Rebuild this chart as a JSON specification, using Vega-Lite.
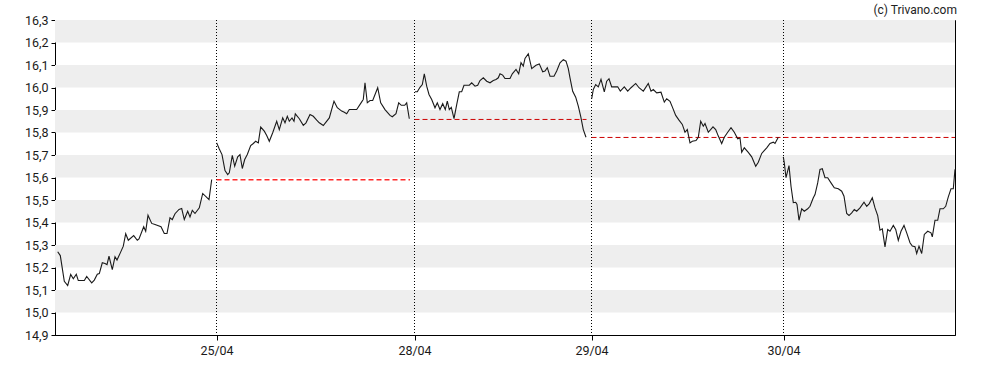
{
  "$schema": "https://vega.github.io/schema/vega-lite/v6.json",
  "width": 900,
  "height": 315,
  "autosize": {"type": "none"},
  "padding": {"top": 20, "left": 55, "right": 33, "bottom": 35},
  "background": "white",
  "title": {"text": "(c) Trivano.com", "anchor": "end", "frame": "group", "fontSize": 12, "font": "Roboto", "fontWeight": "normal", "color": "#222", "offset": 5, "dx": 2, "dy": 8},
  "config": {"view": {"stroke": "#000", "strokeWidth": 1}, "font": "Roboto",
    "axis": {"labelOverlap": false, "labelFlush": false, "grid": false, "domainColor": "#000", "tickColor": "#000", "labelFont": "Roboto", "labelFontSize": 12.5, "labelColor": "#1a1a1a", "title": null}},
  "datasets": {
    "bands": [
      {"lo": 16.2, "hi": 16.3}, {"lo": 16.0, "hi": 16.1}, {"lo": 15.8, "hi": 15.9},
      {"lo": 15.6, "hi": 15.7}, {"lo": 15.4, "hi": 15.5}, {"lo": 15.2, "hi": 15.3}, {"lo": 15.0, "hi": 15.1}
    ],
    "days": [
      {"day": "25/04", "t": 161.5}, {"day": "28/04", "t": 359.5}, {"day": "29/04", "t": 536.5}, {"day": "30/04", "t": 728.5}
    ],
    "refs": [
      {"day": "25/04", "start": 161.5, "end": 355, "close": 15.59},
      {"day": "28/04", "start": 359.5, "end": 531.5, "close": 15.858},
      {"day": "29/04", "start": 536.5, "end": 728.5, "close": 15.778},
      {"day": "30/04", "start": 728.5, "end": 900, "close": 15.778}
    ],
    "prices": [
      {"day":"24/04","t":2.7,"v":15.27},{"day":"24/04","t":5.3,"v":15.253},{"day":"24/04","t":9.3,"v":15.139},{"day":"24/04","t":12.7,"v":15.12},{"day":"24/04","t":15.7,"v":15.169},{"day":"24/04","t":18.3,"v":15.15},{"day":"24/04","t":21.3,"v":15.17},{"day":"24/04","t":23.3,"v":15.142},{"day":"24/04","t":29.3,"v":15.142},{"day":"24/04","t":31.7,"v":15.16},{"day":"24/04","t":36.7,"v":15.132},{"day":"24/04","t":39.3,"v":15.144},{"day":"24/04","t":42.3,"v":15.17},{"day":"24/04","t":44.3,"v":15.173},{"day":"24/04","t":47.3,"v":15.221},{"day":"24/04","t":50,"v":15.218},{"day":"24/04","t":52,"v":15.213},{"day":"24/04","t":54,"v":15.25},{"day":"24/04","t":57.3,"v":15.191},{"day":"24/04","t":60,"v":15.248},{"day":"24/04","t":62,"v":15.233},{"day":"24/04","t":65.3,"v":15.265},{"day":"24/04","t":68.3,"v":15.295},{"day":"24/04","t":70.7,"v":15.35},{"day":"24/04","t":73.3,"v":15.321},{"day":"24/04","t":78.7,"v":15.342},{"day":"24/04","t":82.3,"v":15.321},{"day":"24/04","t":84,"v":15.327},{"day":"24/04","t":88.7,"v":15.381},{"day":"24/04","t":90.7,"v":15.361},{"day":"24/04","t":93,"v":15.432},{"day":"24/04","t":96.7,"v":15.396},{"day":"24/04","t":100,"v":15.391},{"day":"24/04","t":106,"v":15.381},{"day":"24/04","t":109.3,"v":15.351},{"day":"24/04","t":112,"v":15.351},{"day":"24/04","t":115,"v":15.421},{"day":"24/04","t":117.3,"v":15.413},{"day":"24/04","t":120,"v":15.439},{"day":"24/04","t":124,"v":15.458},{"day":"24/04","t":126.7,"v":15.462},{"day":"24/04","t":129.3,"v":15.413},{"day":"24/04","t":132.7,"v":15.45},{"day":"24/04","t":135,"v":15.425},{"day":"24/04","t":137.3,"v":15.454},{"day":"24/04","t":140,"v":15.44},{"day":"24/04","t":144.3,"v":15.465},{"day":"24/04","t":147.7,"v":15.529},{"day":"24/04","t":154,"v":15.502},{"day":"24/04","t":156.7,"v":15.591},
      {"day":"25/04","t":161.7,"v":15.754},{"day":"25/04","t":164.3,"v":15.727},{"day":"25/04","t":167,"v":15.702},{"day":"25/04","t":170,"v":15.631},{"day":"25/04","t":172.7,"v":15.613},{"day":"25/04","t":174.3,"v":15.621},{"day":"25/04","t":177.3,"v":15.698},{"day":"25/04","t":179.7,"v":15.65},{"day":"25/04","t":182.7,"v":15.692},{"day":"25/04","t":185,"v":15.702},{"day":"25/04","t":187.3,"v":15.64},{"day":"25/04","t":189.7,"v":15.68},{"day":"25/04","t":192.3,"v":15.702},{"day":"25/04","t":195.7,"v":15.742},{"day":"25/04","t":198.3,"v":15.751},{"day":"25/04","t":200.7,"v":15.761},{"day":"25/04","t":203.3,"v":15.754},{"day":"25/04","t":205.7,"v":15.824},{"day":"25/04","t":209.3,"v":15.806},{"day":"25/04","t":211.7,"v":15.787},{"day":"25/04","t":214.3,"v":15.761},{"day":"25/04","t":217.7,"v":15.799},{"day":"25/04","t":221.7,"v":15.85},{"day":"25/04","t":224.3,"v":15.813},{"day":"25/04","t":227.7,"v":15.865},{"day":"25/04","t":230,"v":15.843},{"day":"25/04","t":232.3,"v":15.872},{"day":"25/04","t":234.3,"v":15.85},{"day":"25/04","t":237,"v":15.865},{"day":"25/04","t":239,"v":15.85},{"day":"25/04","t":240.3,"v":15.883},{"day":"25/04","t":244.3,"v":15.861},{"day":"25/04","t":248.3,"v":15.832},{"day":"25/04","t":251,"v":15.843},{"day":"25/04","t":255,"v":15.88},{"day":"25/04","t":258.3,"v":15.872},{"day":"25/04","t":261.7,"v":15.855},{"day":"25/04","t":264.3,"v":15.843},{"day":"25/04","t":268.3,"v":15.831},{"day":"25/04","t":271,"v":15.846},{"day":"25/04","t":274.3,"v":15.865},{"day":"25/04","t":279,"v":15.939},{"day":"25/04","t":282.3,"v":15.91},{"day":"25/04","t":286.7,"v":15.895},{"day":"25/04","t":289.3,"v":15.89},{"day":"25/04","t":291.7,"v":15.883},{"day":"25/04","t":294.3,"v":15.902},{"day":"25/04","t":301.7,"v":15.902},{"day":"25/04","t":306.7,"v":15.936},{"day":"25/04","t":308.3,"v":15.947},{"day":"25/04","t":310,"v":16.021},{"day":"25/04","t":312.3,"v":15.932},{"day":"25/04","t":315,"v":15.942},{"day":"25/04","t":317.7,"v":15.942},{"day":"25/04","t":322.7,"v":15.999},{"day":"25/04","t":325.7,"v":15.932},{"day":"25/04","t":330,"v":15.902},{"day":"25/04","t":335,"v":15.876},{"day":"25/04","t":337.3,"v":15.87},{"day":"25/04","t":341,"v":15.884},{"day":"25/04","t":343.7,"v":15.932},{"day":"25/04","t":346.3,"v":15.921},{"day":"25/04","t":349.7,"v":15.921},{"day":"25/04","t":351.7,"v":15.932},{"day":"25/04","t":354.3,"v":15.861},
      {"day":"28/04","t":360,"v":15.981},{"day":"28/04","t":362.3,"v":15.981},{"day":"28/04","t":365,"v":16.001},{"day":"28/04","t":367.3,"v":16.013},{"day":"28/04","t":369.3,"v":16.061},{"day":"28/04","t":371.7,"v":16.006},{"day":"28/04","t":374,"v":15.969},{"day":"28/04","t":376.7,"v":15.947},{"day":"28/04","t":380,"v":15.91},{"day":"28/04","t":382.3,"v":15.932},{"day":"28/04","t":385,"v":15.902},{"day":"28/04","t":387.7,"v":15.928},{"day":"28/04","t":390.3,"v":15.902},{"day":"28/04","t":392.3,"v":15.939},{"day":"28/04","t":394.3,"v":15.902},{"day":"28/04","t":396.3,"v":15.912},{"day":"28/04","t":399,"v":15.862},{"day":"28/04","t":401.7,"v":15.924},{"day":"28/04","t":404.3,"v":15.981},{"day":"28/04","t":406.7,"v":15.981},{"day":"28/04","t":409,"v":16.01},{"day":"28/04","t":414.3,"v":16.01},{"day":"28/04","t":416.7,"v":16.021},{"day":"28/04","t":420,"v":16.006},{"day":"28/04","t":422.7,"v":16.01},{"day":"28/04","t":425,"v":16.031},{"day":"28/04","t":428.3,"v":16.043},{"day":"28/04","t":431.7,"v":16.028},{"day":"28/04","t":435,"v":16.021},{"day":"28/04","t":438.3,"v":16.031},{"day":"28/04","t":441,"v":16.036},{"day":"28/04","t":443.3,"v":16.043},{"day":"28/04","t":445,"v":16.061},{"day":"28/04","t":447.7,"v":16.055},{"day":"28/04","t":450,"v":16.04},{"day":"28/04","t":455,"v":16.04},{"day":"28/04","t":457.3,"v":16.061},{"day":"28/04","t":461,"v":16.08},{"day":"28/04","t":463.7,"v":16.061},{"day":"28/04","t":466,"v":16.11},{"day":"28/04","t":468.3,"v":16.095},{"day":"28/04","t":470,"v":16.129},{"day":"28/04","t":473.3,"v":16.15},{"day":"28/04","t":476.7,"v":16.084},{"day":"28/04","t":481,"v":16.099},{"day":"28/04","t":484.3,"v":16.105},{"day":"28/04","t":487.7,"v":16.07},{"day":"28/04","t":490,"v":16.073},{"day":"28/04","t":492.3,"v":16.088},{"day":"28/04","t":495,"v":16.05},{"day":"28/04","t":499,"v":16.05},{"day":"28/04","t":501.7,"v":16.073},{"day":"28/04","t":505,"v":16.11},{"day":"28/04","t":508.3,"v":16.124},{"day":"28/04","t":511,"v":16.117},{"day":"28/04","t":513.3,"v":16.084},{"day":"28/04","t":515,"v":16.043},{"day":"28/04","t":517.7,"v":15.983},{"day":"28/04","t":520.7,"v":15.957},{"day":"28/04","t":523.3,"v":15.917},{"day":"28/04","t":525.7,"v":15.872},{"day":"28/04","t":528.3,"v":15.813},{"day":"28/04","t":531,"v":15.779},
      {"day":"29/04","t":536.7,"v":15.95},{"day":"29/04","t":538.3,"v":15.991},{"day":"29/04","t":540.7,"v":16.013},{"day":"29/04","t":543.3,"v":16.003},{"day":"29/04","t":546,"v":16.036},{"day":"29/04","t":549.3,"v":15.981},{"day":"29/04","t":551.7,"v":16.028},{"day":"29/04","t":554,"v":16.039},{"day":"29/04","t":556.7,"v":16.003},{"day":"29/04","t":562.7,"v":16.003},{"day":"29/04","t":565.3,"v":15.984},{"day":"29/04","t":569.3,"v":16.003},{"day":"29/04","t":572.7,"v":15.984},{"day":"29/04","t":576,"v":15.999},{"day":"29/04","t":580.7,"v":16.018},{"day":"29/04","t":584,"v":15.999},{"day":"29/04","t":588.3,"v":15.984},{"day":"29/04","t":593.3,"v":16.018},{"day":"29/04","t":596,"v":15.984},{"day":"29/04","t":598.3,"v":15.991},{"day":"29/04","t":601.7,"v":15.976},{"day":"29/04","t":606,"v":15.979},{"day":"29/04","t":609.3,"v":15.935},{"day":"29/04","t":611.7,"v":15.95},{"day":"29/04","t":615,"v":15.939},{"day":"29/04","t":617.3,"v":15.914},{"day":"29/04","t":620.7,"v":15.876},{"day":"29/04","t":624,"v":15.855},{"day":"29/04","t":627.3,"v":15.836},{"day":"29/04","t":630,"v":15.801},{"day":"29/04","t":632.3,"v":15.813},{"day":"29/04","t":635,"v":15.754},{"day":"29/04","t":637.3,"v":15.761},{"day":"29/04","t":641,"v":15.764},{"day":"29/04","t":643.3,"v":15.779},{"day":"29/04","t":645.7,"v":15.85},{"day":"29/04","t":648.3,"v":15.828},{"day":"29/04","t":650,"v":15.84},{"day":"29/04","t":653.3,"v":15.801},{"day":"29/04","t":658,"v":15.825},{"day":"29/04","t":660.7,"v":15.813},{"day":"29/04","t":663.3,"v":15.784},{"day":"29/04","t":666.7,"v":15.751},{"day":"29/04","t":669.3,"v":15.779},{"day":"29/04","t":672.7,"v":15.801},{"day":"29/04","t":676,"v":15.821},{"day":"29/04","t":679.3,"v":15.801},{"day":"29/04","t":682.7,"v":15.772},{"day":"29/04","t":685,"v":15.776},{"day":"29/04","t":686.7,"v":15.712},{"day":"29/04","t":689.3,"v":15.732},{"day":"29/04","t":693.3,"v":15.712},{"day":"29/04","t":696.7,"v":15.692},{"day":"29/04","t":700.7,"v":15.65},{"day":"29/04","t":703.3,"v":15.668},{"day":"29/04","t":706.7,"v":15.707},{"day":"29/04","t":711.7,"v":15.732},{"day":"29/04","t":715,"v":15.751},{"day":"29/04","t":718.3,"v":15.757},{"day":"29/04","t":720,"v":15.751},{"day":"29/04","t":723.3,"v":15.779},
      {"day":"30/04","t":728.3,"v":15.692},{"day":"30/04","t":729.3,"v":15.665},{"day":"30/04","t":731,"v":15.599},{"day":"30/04","t":734,"v":15.653},{"day":"30/04","t":736,"v":15.561},{"day":"30/04","t":738.3,"v":15.488},{"day":"30/04","t":740.7,"v":15.49},{"day":"30/04","t":742,"v":15.48},{"day":"30/04","t":744,"v":15.41},{"day":"30/04","t":746.7,"v":15.461},{"day":"30/04","t":749.3,"v":15.45},{"day":"30/04","t":752.7,"v":15.461},{"day":"30/04","t":755,"v":15.472},{"day":"30/04","t":758.3,"v":15.51},{"day":"30/04","t":760,"v":15.524},{"day":"30/04","t":762.7,"v":15.576},{"day":"30/04","t":765,"v":15.636},{"day":"30/04","t":767.3,"v":15.639},{"day":"30/04","t":770,"v":15.599},{"day":"30/04","t":772.7,"v":15.599},{"day":"30/04","t":776,"v":15.576},{"day":"30/04","t":779.3,"v":15.554},{"day":"30/04","t":783.3,"v":15.55},{"day":"30/04","t":786.7,"v":15.539},{"day":"30/04","t":789,"v":15.517},{"day":"30/04","t":791.7,"v":15.44},{"day":"30/04","t":794,"v":15.431},{"day":"30/04","t":796.7,"v":15.443},{"day":"30/04","t":799.3,"v":15.458},{"day":"30/04","t":801.7,"v":15.45},{"day":"30/04","t":805,"v":15.465},{"day":"30/04","t":809,"v":15.49},{"day":"30/04","t":811.7,"v":15.472},{"day":"30/04","t":814.3,"v":15.484},{"day":"30/04","t":817.3,"v":15.51},{"day":"30/04","t":820,"v":15.465},{"day":"30/04","t":822.7,"v":15.431},{"day":"30/04","t":825,"v":15.366},{"day":"30/04","t":827.3,"v":15.372},{"day":"30/04","t":830,"v":15.292},{"day":"30/04","t":832.7,"v":15.369},{"day":"30/04","t":835,"v":15.361},{"day":"30/04","t":838.3,"v":15.387},{"day":"30/04","t":840.7,"v":15.369},{"day":"30/04","t":843.3,"v":15.321},{"day":"30/04","t":846,"v":15.361},{"day":"30/04","t":849,"v":15.387},{"day":"30/04","t":851.7,"v":15.354},{"day":"30/04","t":855,"v":15.31},{"day":"30/04","t":857.3,"v":15.295},{"day":"30/04","t":860,"v":15.292},{"day":"30/04","t":861.7,"v":15.262},{"day":"30/04","t":864,"v":15.295},{"day":"30/04","t":866.7,"v":15.262},{"day":"30/04","t":869.3,"v":15.347},{"day":"30/04","t":872.7,"v":15.361},{"day":"30/04","t":876,"v":15.354},{"day":"30/04","t":877.3,"v":15.336},{"day":"30/04","t":880,"v":15.41},{"day":"30/04","t":882.7,"v":15.41},{"day":"30/04","t":885,"v":15.461},{"day":"30/04","t":888.3,"v":15.461},{"day":"30/04","t":890.7,"v":15.472},{"day":"30/04","t":893.3,"v":15.514},{"day":"30/04","t":896,"v":15.55},{"day":"30/04","t":898.3,"v":15.55},{"day":"30/04","t":900,"v":15.636}
    ]
  },
  "layer": [
    {
      "data": {"name": "bands"},
      "mark": {"type": "rect", "color": "#eeeeee"},
      "encoding": {
        "x": {"value": 0},
        "x2": {"value": "width"},
        "y": {"field": "hi", "type": "quantitative", "scale": {"domain": [14.9, 16.3], "nice": false, "zero": false},
          "axis": {"values": [14.9, 15.0, 15.1, 15.2, 15.3, 15.4, 15.5, 15.6, 15.7, 15.8, 15.9, 16.0, 16.1, 16.2, 16.3], "tickCount": 30,
            "labelExpr": "replace(format(datum.value, '.1f'), '.', ',')", "tickSize": 4, "labelPadding": 3, "labelOverlap": false}},
        "y2": {"field": "lo"}
      }
    },
    {
      "data": {"name": "days"},
      "mark": {"type": "rule", "color": "#000", "strokeDash": [1, 2], "strokeWidth": 1},
      "encoding": {
        "x": {"field": "t", "type": "quantitative", "scale": {"domain": [0, 900], "nice": false, "zero": false},
          "axis": {"values": [161.5, 359.5, 536.5, 728.5], "tickCount": 10,
            "labelExpr": "datum.value < 200 ? '25/04' : datum.value < 400 ? '28/04' : datum.value < 600 ? '29/04' : '30/04'",
            "tickSize": 5, "labelPadding": 4}}
      }
    },
    {
      "data": {"name": "refs"},
      "transform": [{"filter": "datum.day == '25/04'"}],
      "mark": {"type": "rule", "strokeDash": [5, 3], "strokeWidth": 1.6, "color": "#ff2a2a"},
      "encoding": {
        "x": {"field": "start", "type": "quantitative"},
        "x2": {"field": "end"},
        "y": {"field": "close", "type": "quantitative"}
      }
    },
    {
      "data": {"name": "refs"},
      "transform": [{"filter": "datum.day != '25/04'"}],
      "mark": {"type": "rule", "strokeDash": [5, 3], "strokeWidth": 1, "color": "#cc0000"},
      "encoding": {
        "x": {"field": "start", "type": "quantitative"},
        "x2": {"field": "end"},
        "y": {"field": "close", "type": "quantitative"}
      }
    },
    {
      "data": {"name": "prices"},
      "mark": {"type": "line", "color": "#1a1a1a", "strokeWidth": 1.1},
      "encoding": {
        "x": {"field": "t", "type": "quantitative"},
        "y": {"field": "v", "type": "quantitative"},
        "detail": {"field": "day", "type": "nominal"}
      }
    }
  ]
}
